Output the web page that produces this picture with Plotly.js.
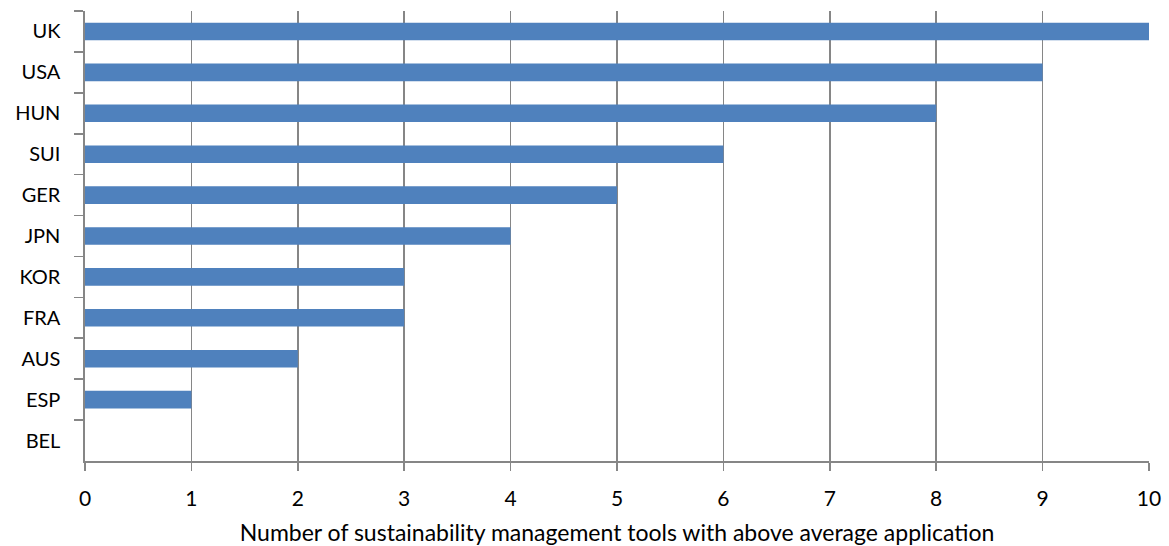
<!DOCTYPE html>
<html>
<head>
<meta charset="utf-8">
<script src="https://cdn.plot.ly/plotly-3.0.1.min.js"></script>
<style>
  html, body { margin: 0; padding: 0; background: #fff; }
  #chart { width: 1169px; height: 546px; }
</style>
</head>
<body>
<div id="chart"></div>
<script>
const countries = ["UK", "USA", "HUN", "SUI", "GER", "JPN", "KOR", "FRA", "AUS", "ESP", "BEL"];
const toolCounts = [10, 9, 8, 6, 5, 4, 3, 3, 2, 1, 0];
const xTickValues = [0, 1, 2, 3, 4, 5, 6, 7, 8, 9, 10];
const xAxisTitle = "Number of sustainability management tools with above average application";

const gridColor = "#868686";
const fontFamily = "Lato, 'Open Sans', sans-serif";

const trace = {
  type: "bar",
  orientation: "h",
  x: toolCounts,
  y: countries,
  marker: { color: "#4F81BD" },
  hoverinfo: "x+y"
};

const layout = {
  width: 1169,
  height: 546,
  margin: { l: 85, r: 20, t: 11, b: 85 },
  paper_bgcolor: "#ffffff",
  plot_bgcolor: "#ffffff",
  bargap: 0.57,
  showlegend: false,
  font: { family: fontFamily, size: 20, color: "#000000" },
  xaxis: {
    range: [0, 10],
    tickvals: xTickValues,
    ticktext: xTickValues.map(String),
    showgrid: true,
    gridcolor: gridColor,
    gridwidth: 1.6,
    zeroline: false,
    showline: true,
    linecolor: gridColor,
    linewidth: 1.6,
    ticks: "outside",
    ticklen: 8,
    tickwidth: 1.6,
    tickcolor: gridColor,
    ticklabelstandoff: 10,
    tickfont: { family: fontFamily, size: 21, color: "#000000" },
    title: { text: xAxisTitle, font: { family: fontFamily, size: 23, color: "#000000" }, standoff: 18 },
    fixedrange: true
  },
  yaxis: {
    type: "category",
    categoryorder: "array",
    categoryarray: countries,
    autorange: "reversed",
    showgrid: false,
    zeroline: false,
    showline: true,
    linecolor: gridColor,
    linewidth: 1.6,
    ticks: "outside",
    tickson: "boundaries",
    ticklen: 9,
    tickwidth: 1.6,
    tickcolor: gridColor,
    ticklabelstandoff: 19,
    tickfont: { family: fontFamily, size: 20, color: "#000000" },
    fixedrange: true
  }
};

Plotly.newPlot("chart", [trace], layout, { displayModeBar: false, staticPlot: true });
</script>
</body>
</html>
